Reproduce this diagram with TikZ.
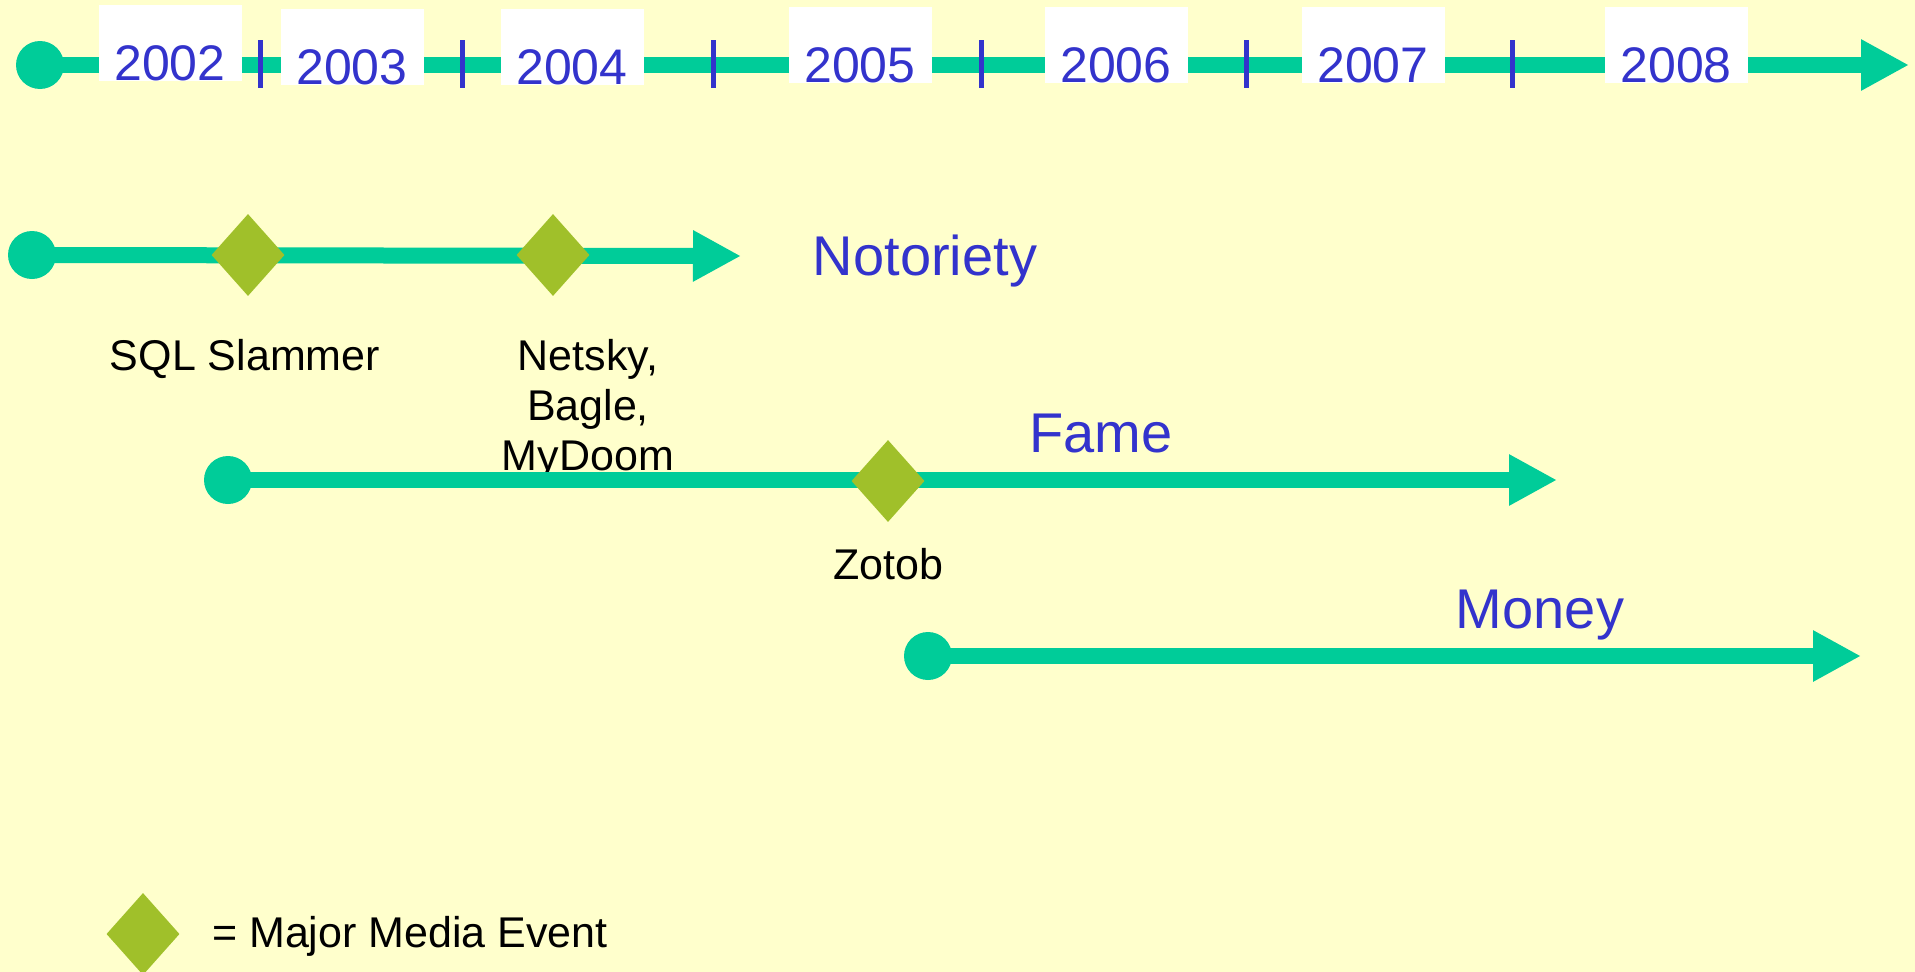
\documentclass[tikz,border=0pt]{standalone}
\usepackage{fontspec}
\setmainfont{Liberation Sans}
\usetikzlibrary{shapes.geometric,arrows.meta}

\definecolor{paper}{HTML}{FFFFCC}
\definecolor{trackgreen}{HTML}{00CC99}
\definecolor{eventgreen}{HTML}{A0C02A}
\definecolor{ink}{HTML}{3333CC}

\begin{document}
\begin{tikzpicture}[x=1pt,y=-1pt,
  startdot/.style={circle,fill=trackgreen,minimum size=48pt,inner sep=0pt},
  trackline/.style={draw=trackgreen,line width=16pt,
    -{Triangle[length=48pt,width=48pt]}},
  media/.style={diamond,fill=eventgreen,aspect=0.89,
    minimum width=73pt,minimum height=82pt,inner sep=0pt},
  yearbox/.style={fill=white,inner sep=0pt,minimum width=143pt,
    text height=76pt,text depth=0pt,anchor=south,text=ink,
    font=\fontsize{50}{60}\selectfont},
  yeartick/.style={draw=ink,line width=5pt},
  phase/.style={text=ink,inner sep=0pt,anchor=base,
    font=\fontsize{56}{66}\selectfont},
  caption/.style={text=black,inner sep=0pt,anchor=base,align=center,
    font=\fontsize{43}{50}\selectfont}
]
% canvas
\fill[paper] (0,0) rectangle (1915,972);
\useasboundingbox (0,0) rectangle (1915,972);

% year axis
\node[startdot] (axis0) at (40,65) {};
\coordinate (axis1) at (1909,65);
\draw[trackline] (axis0.center) -- (axis1);
\foreach \tx in {260,462,713,981,1246,1512}
  \draw[yeartick] (\tx,40) -- (\tx,88);
\node[yearbox] (y2002) at (170,81) {2002};
\node[yearbox] (y2003) at (352,85) {2003};
\node[yearbox] (y2004) at (572,85) {2004};
\node[yearbox] (y2005) at (860,83) {2005};
\node[yearbox] (y2006) at (1116,83) {2006};
\node[yearbox] (y2007) at (1373,83) {2007};
\node[yearbox] (y2008) at (1676,83) {2008};

% event captions (under the Fame track); base = last line
\node[caption] (capsql) at (245,370) {SQL Slammer};
\node[caption] (capnet) at (588,470) {Netsky,\\Bagle,\\MyDoom};

% Notoriety track
\node[startdot] (not0) at (32,255) {};
\coordinate (not1) at (741,256);
\draw[trackline] (not0.center) -- (not1);
\node[media] (sql) at (248,255) {};
\node[media] (netsky) at (553,255) {};
\node[phase] (lnot) at (925,275) {Notoriety};

% Fame track
\node[startdot] (fame0) at (228,480) {};
\coordinate (fame1) at (1557,480);
\draw[trackline] (fame0.center) -- (fame1);
\node[media] (zotob) at (888,481) {};
\node[caption] (capzot) at (888,579) {Zotob};
\node[phase] (lfame) at (1101,452) {Fame};

% Money track
\node[startdot] (money0) at (928,656) {};
\coordinate (money1) at (1861,656);
\draw[trackline] (money0.center) -- (money1);
\node[phase] (lmoney) at (1540,628) {Money};

% legend
\node[media] (key) at (143,934) {};
\node[caption,anchor=base west] (keytext) at (212,947) {= Major Media Event};
\end{tikzpicture}
\end{document}
